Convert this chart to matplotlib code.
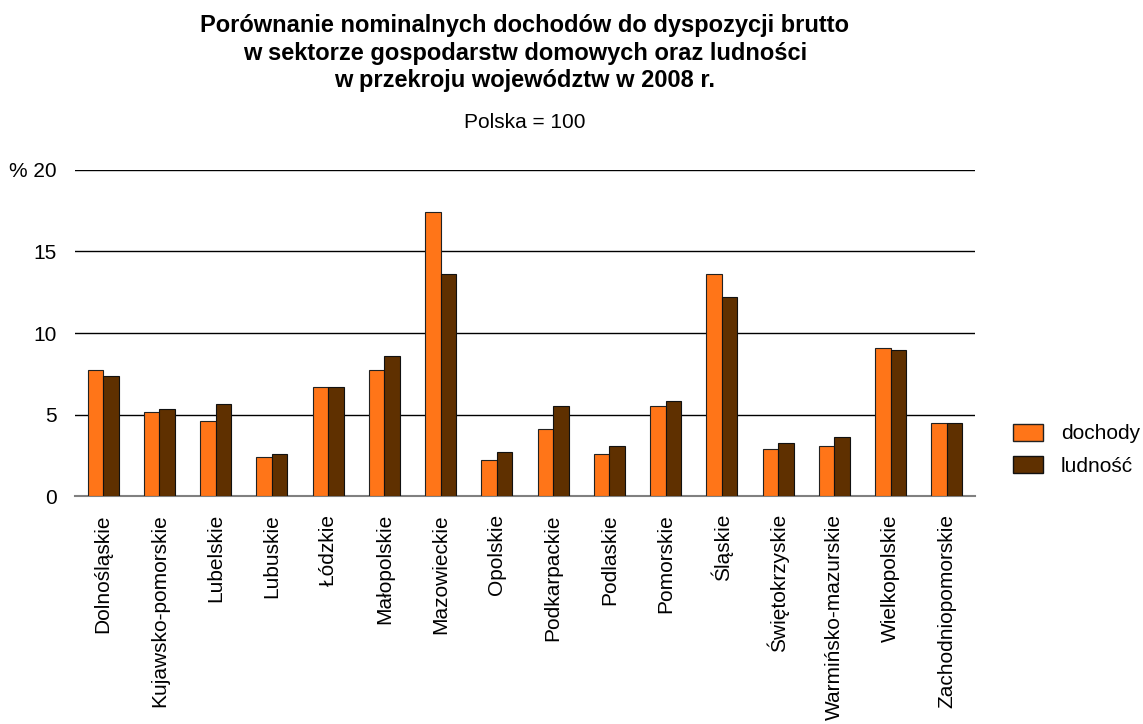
import numpy as np
import matplotlib.pyplot as plt
from matplotlib.patches import Patch

plt.rcParams['font.family'] = ['Liberation Sans', 'DejaVu Sans']

# Dane (Polska = 100)
wojewodztwa = ["Dolnośląskie", "Kujawsko-pomorskie", "Lubelskie", "Lubuskie", "Łódzkie",
               "Małopolskie", "Mazowieckie", "Opolskie", "Podkarpackie", "Podlaskie",
               "Pomorskie", "Śląskie", "Świętokrzyskie", "Warmińsko-mazurskie",
               "Wielkopolskie", "Zachodniopomorskie"]
dochody = [7.74, 5.15, 4.62, 2.40, 6.70, 7.74, 17.41, 2.22, 4.11, 2.57, 5.50, 13.60,
           2.91, 3.08, 9.10, 4.46]
ludnosc = [7.39, 5.34, 5.66, 2.57, 6.70, 8.59, 13.60, 2.73, 5.50, 3.08, 5.85, 12.22,
           3.24, 3.60, 8.94, 4.46]
yticks = [0, 5, 10, 15, 20]
ytick_labels = ["0", "5", "10", "15", "% 20"]

c_doch = "#FF7518"
c_lud = "#5F3000"

fig = plt.figure(figsize=(11.43, 7.24), dpi=100)
ax = fig.add_axes([0.0656, 0.3149, 0.7874, 0.4503])

x = np.arange(len(wojewodztwa))
w = 0.275
ax.bar(x - w / 2, dochody, w, color=c_doch, edgecolor="#222222", linewidth=0.8, zorder=3)
ax.bar(x + w / 2, ludnosc, w, color=c_lud, edgecolor="#111111", linewidth=0.8, zorder=3)

ax.set_xlim(-0.5, len(wojewodztwa) - 0.5)
ax.set_ylim(0, 20)
ax.set_yticks(yticks)
ax.set_yticklabels(ytick_labels, fontsize=15)
ax.set_xticks(x)
ax.set_xticklabels(wojewodztwa, rotation=90, fontsize=15)
ax.tick_params(length=0)
ax.tick_params(axis="x", pad=13)
ax.tick_params(axis="y", pad=13)
ax.yaxis.grid(True, color="black", linewidth=1.0, zorder=0)
for s in ["top", "left", "right"]:
    ax.spines[s].set_visible(False)
ax.spines["bottom"].set_color("#808080")
ax.spines["bottom"].set_linewidth(1.5)

fig.text(0.4593, 0.980, "Porównanie nominalnych dochodów do dyspozycji brutto\n"
         "w sektorze gospodarstw domowych oraz ludności\n"
         "w przekroju województw w 2008 r.",
         ha="center", va="top", fontsize=17, fontweight="bold", linespacing=1.24)
fig.text(0.4593, 0.831, "Polska = 100", ha="center", va="center", fontsize=15)

handles = [Patch(facecolor=c_doch, edgecolor="#222222", label="dochody"),
           Patch(facecolor=c_lud, edgecolor="#111111", label="ludność")]
fig.legend(handles=handles, loc="center left", bbox_to_anchor=(0.870, 0.379),
           frameon=False, fontsize=15, handlelength=1.45, handleheight=0.9,
           handletextpad=0.85, labelspacing=0.6)

fig.savefig("out.png", dpi=100)
